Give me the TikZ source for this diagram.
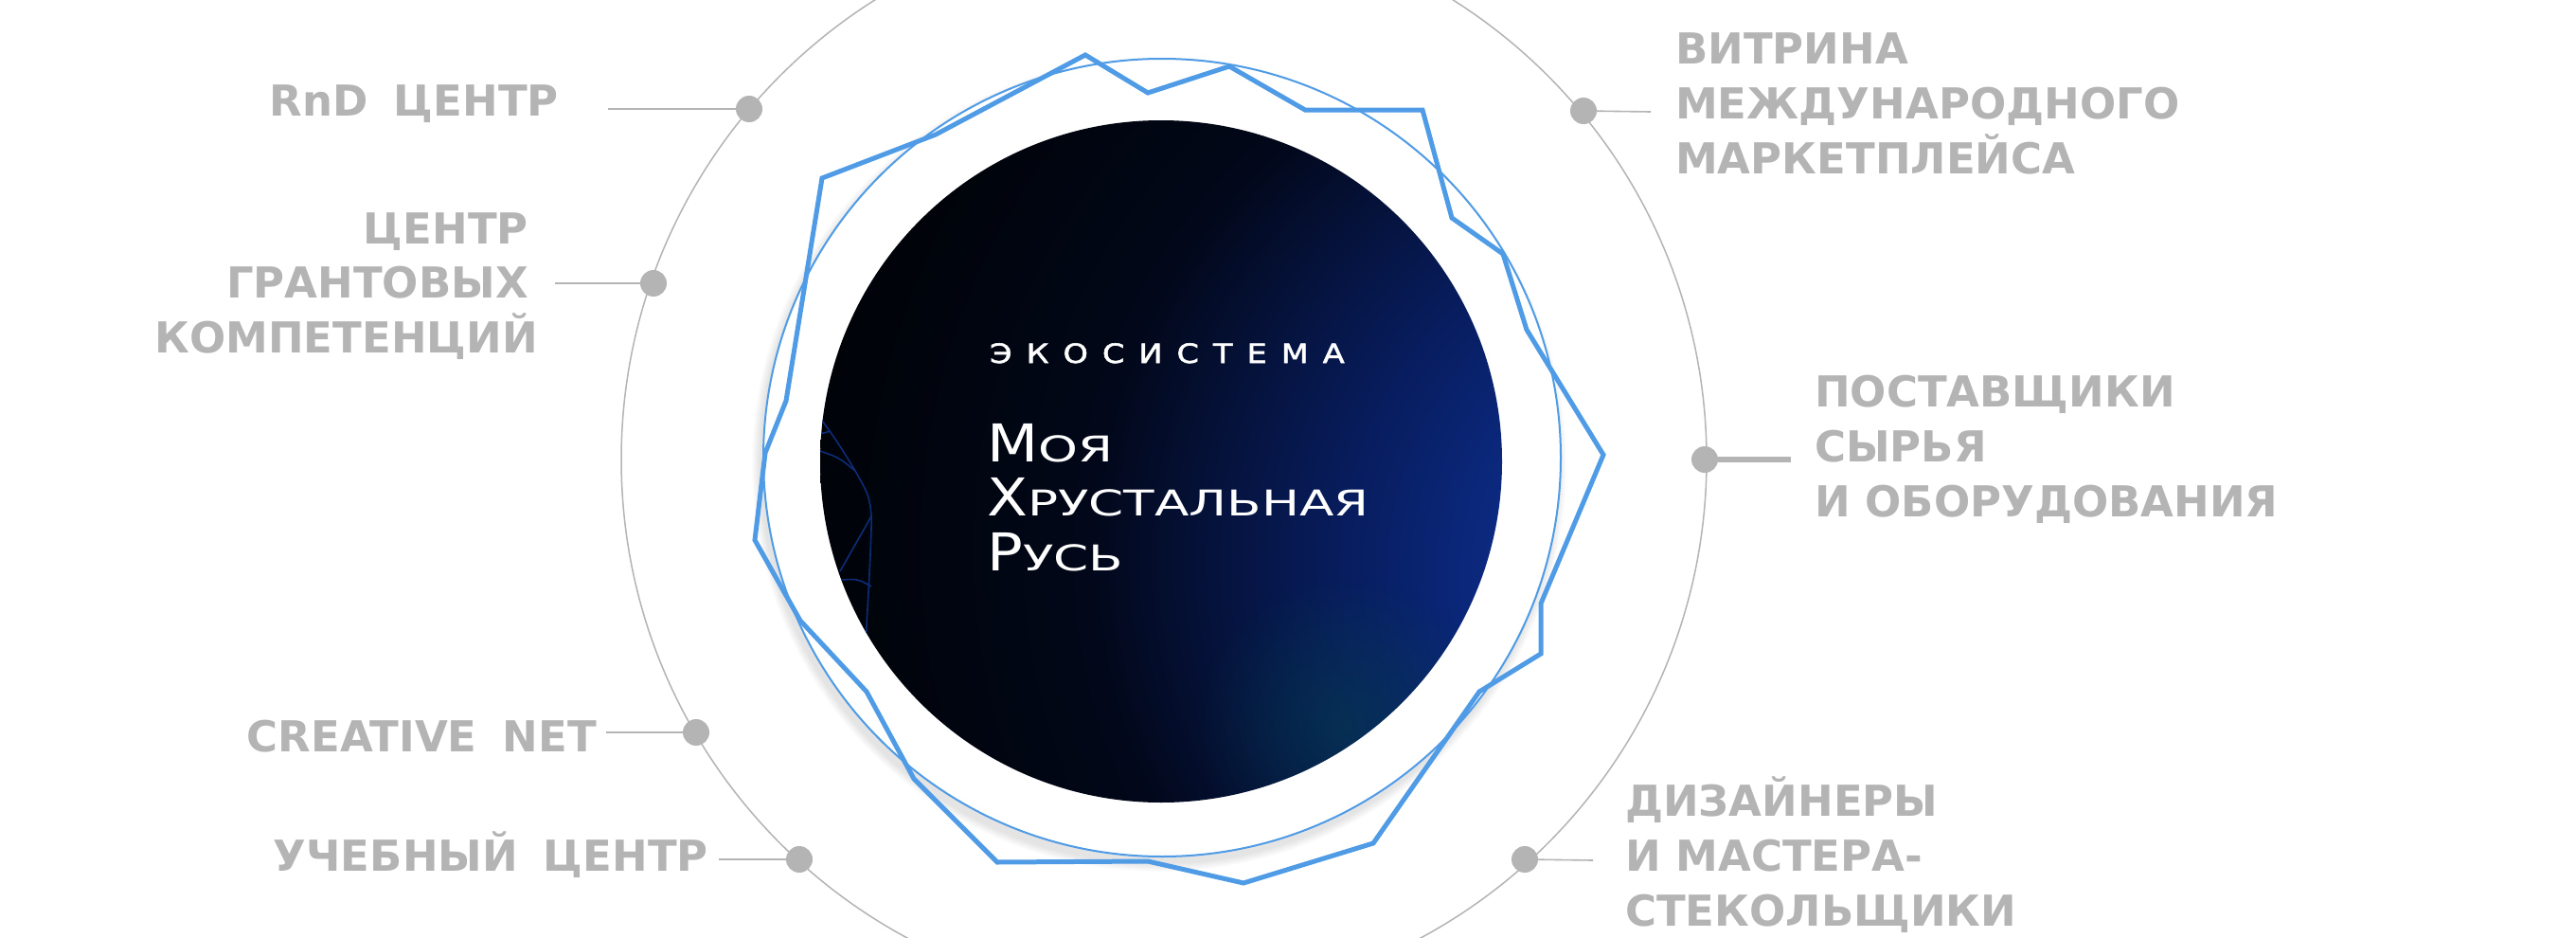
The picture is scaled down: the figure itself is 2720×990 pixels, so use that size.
\documentclass[tikz,border=0pt]{standalone}
\usepackage{fontspec}
\usetikzlibrary{fadings}
\newfontfamily\labfont{DejaVu Sans}
\newfontfamily\capfont{DejaVu Sans}[FakeStretch=1.14]
\newfontfamily\scfont{DejaVu Sans}[FakeStretch=1.42]
\newfontfamily\ecofont{DejaVu Sans}[FakeStretch=1.2,FakeBold=2]
\definecolor{labgray}{HTML}{B4B4B4}
\definecolor{polyblue}{HTML}{4F9BE6}
\definecolor{netblue}{HTML}{0D2C78}
\definecolor{tealspot}{rgb}{0.02,0.27,0.32}
\pgfdeclareradialshading{orb}{\pgfpoint{50bp}{-10bp}}{rgb(0bp)=(0.08,0.25,0.72); rgb(14bp)=(0.05,0.19,0.58); rgb(27bp)=(0.03,0.11,0.36); rgb(40bp)=(0.008,0.03,0.1); rgb(53bp)=(0,0.012,0.035); rgb(66bp)=(0,0.006,0.016); rgb(130bp)=(0,0.006,0.012)}
\tikzfading[name=myfade, inner color=transparent!0, outer color=transparent!100]
\newcommand\mybig[1]{{\capfont\fontsize{55}{60}\selectfont #1}}
\newcommand\mysmall[1]{{\scfont\fontsize{37.5}{40}\selectfont #1}}
\newcommand\ecosp{\hspace{15pt}}
\begin{document}
\begin{tikzpicture}[x=1pt,y=-1pt,
  orbit/.style={draw=labgray, line width=1.5pt},
  conn/.style={draw=labgray, line width=1.6pt},
  connthick/.style={draw=labgray, line width=5.5pt},
  dot/.style={circle, fill=labgray, minimum size=28pt, inner sep=0pt, draw=none},
  lab/.style={text=labgray, font={\labfont\bfseries\fontsize{45}{54}\selectfont}, inner sep=0pt},
  ctext/.style={text=white, inner sep=0pt},
  ring/.style={draw=polyblue, line width=2pt},
  poly/.style={draw=polyblue, line width=5pt, line join=miter},
  net/.style={draw=netblue, line width=1.6pt}]
\useasboundingbox (0,0) rectangle (2720,990);
\clip (0,0) rectangle (2720,990);
\fill[white] (0,0) rectangle (2720,990);
% outer orbit
\draw[orbit] (1229,485) circle[radius=573pt];
% dots
\node[dot] (d1) at (791,115) {};
\node[dot] (d2) at (690,299) {};
\node[dot] (d3) at (735,773) {};
\node[dot] (d4) at (844,907) {};
\node[dot] (d5) at (1672,117) {};
\node[dot] (d6) at (1800,485) {};
\node[dot] (d7) at (1610,907) {};
% connector ends
\coordinate (e1) at (642,115);
\coordinate (e2) at (586,299);
\coordinate (e3) at (640,773);
\coordinate (e4) at (759,907);
\coordinate (e5) at (1743,118);
\coordinate (e6) at (1891,485);
\coordinate (e7) at (1682,908);
\draw[conn] (e1) -- (d1);
\draw[conn] (e2) -- (d2);
\draw[conn] (e3) -- (d3);
\draw[conn] (e4) -- (d4);
\draw[conn] (e5) -- (d5);
\draw[connthick] (e6) -- (d6);
\draw[conn] (e7) -- (d7);
% left labels
\node[lab, anchor=base east] (l1) at (590,122.5) {RnD\hspace{27pt}ЦЕНТР};
\node[lab, anchor=base east] (l2a) at (558,257) {ЦЕНТР};
\node[lab, anchor=base east] (l2b) at (558,314) {ГРАНТОВЫХ};
\node[lab, anchor=base east] (l2c) at (568,372) {КОМПЕТЕНЦИЙ};
\node[lab, anchor=base east] (l3) at (630,793) {CREATIVE\hspace{27pt}NET};
\node[lab, anchor=base east] (l4) at (748,919) {УЧЕБНЫЙ\hspace{27pt}ЦЕНТР};
% right labels
\node[lab, anchor=base west] (r1a) at (1769,67) {ВИТРИНА};
\node[lab, anchor=base west] (r1b) at (1769,125) {МЕЖДУНАРОДНОГО};
\node[lab, anchor=base west] (r1c) at (1769,183) {МАРКЕТПЛЕЙСА};
\node[lab, anchor=base west] (r2a) at (1916,429) {ПОСТАВЩИКИ};
\node[lab, anchor=base west] (r2b) at (1916,487) {СЫРЬЯ};
\node[lab, anchor=base west] (r2c) at (1916,545) {И ОБОРУДОВАНИЯ};
\node[lab, anchor=base west] (r3a) at (1716,861) {ДИЗАЙНЕРЫ};
\node[lab, anchor=base west] (r3b) at (1716,919) {И МАСТЕРА-};
\node[lab, anchor=base west] (r3c) at (1716,977) {СТЕКОЛЬЩИКИ};
% shadow of white disk
\foreach \i in {1,...,9} \fill[black, opacity=0.010] (1224,490) circle[radius={(421+\i)*1pt}];
\fill[white] (1227,483) circle[radius=421pt];
\draw[ring] (1227,483) circle[radius=421pt];
% dark orb
\shade[shading=orb] (1226,487) circle[radius=360pt];
\begin{scope}
  \clip (1226,487) circle[radius=360pt];
  \fill[tealspot, path fading=myfade, opacity=0.5] (1420,765) circle[radius=160pt];
  \draw[net] plot[smooth] coordinates {(866,441) (885,468) (903,497) (916,522) (920,545) (919,585) (917,625) (914,678)};
  \draw[net] (920,545) -- (887,603);
  \draw[net] (866,476) .. controls (886,483) .. (903,497);
  \draw[net] (887,612) .. controls (906,611) .. (920,619);
  \draw[net] (866,458) -- (877,455);
\end{scope}
% centre text
\node[ctext, anchor=base west] (eco) at (1045,383) {\ecofont\fontsize{28}{30}\selectfont Э\ecosp К\ecosp О\ecosp С\ecosp И\ecosp С\ecosp Т\ecosp Е\ecosp М\ecosp А};
\node[ctext, anchor=base west] (t1) at (1042,487) {\mybig{М}\mysmall{ОЯ}};
\node[ctext, anchor=base west] (t2) at (1042,544) {\mybig{Х}\mysmall{РУСТАЛЬНАЯ}};
\node[ctext, anchor=base west] (t3) at (1042,602) {\mybig{Р}\mysmall{УСЬ}};
% polygon
\draw[poly] (1146,58) -- (1212,98) -- (1298,70) -- (1378,116) -- (1502,116) -- (1533,230) -- (1587,268) -- (1612,348) -- (1693,480) -- (1627,637) -- (1627,690) -- (1562,730) -- (1450,890) -- (1313,932) -- (1212,909) -- (1053,910) -- (965,822) -- (915,730) -- (845,655) -- (797,570) -- (808,478) -- (830,423) -- (868,188) -- (988,142) -- cycle;
\end{tikzpicture}
\end{document}
